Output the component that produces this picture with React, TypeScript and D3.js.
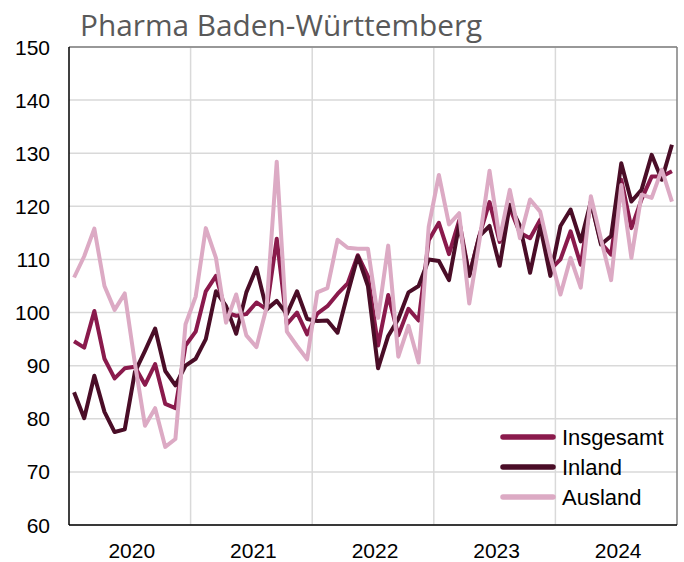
import React from "react";
import * as d3 from "d3";

const years = ["2020", "2021", "2022", "2023", "2024"];
const yTicks = [60, 70, 80, 90, 100, 110, 120, 130, 140, 150];

const insgesamt = [
  94.6, 93.4, 100.3, 91.3, 87.6, 89.5, 89.8, 86.4, 90.3, 82.8, 82.0, 93.8,
  96.4, 104.0, 106.9, 100.0, 99.4, 99.7, 101.9, 100.6, 113.9, 97.8, 100.0, 95.9,
  99.8, 101.2, 103.5, 105.5, 110.8, 106.8, 93.8, 103.3, 95.7, 100.7, 98.5, 113.6,
  116.9, 111.0, 117.3, 107.0, 114.5, 120.8, 113.3, 119.7, 115.0, 114.0, 117.5, 108.1,
  110.0, 115.3, 109.0, 120.9, 113.1, 110.9, 125.0, 115.9, 121.3, 125.6, 125.6, 126.6,
];
const inland = [
  85.0, 80.1, 88.1, 81.3, 77.5, 78.0, 88.8, 92.8, 97.0, 89.0, 86.3, 90.0,
  91.3, 95.0, 104.0, 101.2, 96.0, 103.8, 108.4, 100.6, 102.2, 99.7, 104.0, 98.8,
  98.4, 98.5, 96.2, 103.6, 110.6, 105.0, 89.5, 95.6, 98.8, 103.8, 105.0, 110.0,
  109.7, 106.1, 116.5, 106.9, 114.4, 116.3, 108.8, 120.3, 116.3, 107.5, 116.3, 106.9,
  116.3, 119.4, 113.4, 120.9, 112.8, 114.4, 128.1, 120.9, 123.1, 129.7, 125.0, 131.6,
];
const ausland = [
  106.6, 110.6, 115.8, 105.0, 100.5, 103.6, 90.5, 78.7, 82.0, 74.7, 76.2, 97.8,
  103.0, 115.9, 110.3, 98.1, 103.4, 95.7, 93.5, 101.0, 128.4, 96.4, 93.7, 91.2,
  103.8, 104.6, 113.7, 112.2, 112.0, 112.0, 99.0, 112.6, 91.7, 97.5, 90.6, 116.2,
  125.9, 116.6, 118.7, 101.7, 113.5, 126.7, 113.8, 123.1, 114.0, 121.3, 119.0, 110.6,
  103.4, 110.3, 104.7, 121.9, 113.8, 106.1, 124.0, 110.3, 122.2, 121.6, 126.9, 120.9,
];

const seriesNames = ["Insgesamt", "Inland", "Ausland"];
const seriesColors = ["#8a1a4c", "#4a0d27", "#dcaac4"];

export default function App() {
  const W = 684, H = 562;
  const left = 69, right = 677, top = 47, bottom = 525;
  const months = d3.range(insgesamt.length);
  const x = d3.scaleBand<number>().domain(months).range([left, right]).padding(0);
  const y = d3.scaleLinear().domain([60, 150]).range([bottom, top]);
  const yearX = d3.scaleBand<string>().domain(years).range([left, right]).padding(0);
  const line = d3
    .line<number>()
    .x((_, i) => (x(i) as number) + x.bandwidth() / 2)
    .y((d) => y(d));
  const data = [insgesamt, inland, ausland];
  const font = "'Liberation Sans', Arial, sans-serif";
  const legendY = [437, 467, 497];

  return (
    <svg width={W} height={H} style={{ position: "absolute", left: 0, top: 0, background: "#fff" }}>
      <text x={80} y={36} fontFamily="'Open Sans', 'Noto Sans', sans-serif" fontSize={29.8} fill="#595959">
        Pharma Baden-Württemberg
      </text>
      {yTicks.map((t) => (
        <line key={"h" + t} x1={left} x2={right} y1={y(t)} y2={y(t)} stroke="#d9d9d9" strokeWidth={1.5} />
      ))}
      {years.slice(1).map((yr) => (
        <line key={"v" + yr} x1={yearX(yr)} x2={yearX(yr)} y1={top} y2={bottom} stroke="#d9d9d9" strokeWidth={1.5} />
      ))}
      {yTicks.map((t) => (
        <text key={"t" + t} x={50} y={y(t) + 7.5} textAnchor="end" fontFamily={font} fontSize={21} fill="#000">
          {t}
        </text>
      ))}
      {years.map((yr) => (
        <text key={"y" + yr} x={(yearX(yr) as number) + yearX.bandwidth() / 2 + 2} y={558} textAnchor="middle" fontFamily={font} fontSize={21} fill="#000">
          {yr}
        </text>
      ))}
      {data.map((d, k) => (
        <path key={"s" + k} d={line(d) || ""} fill="none" stroke={seriesColors[k]} strokeWidth={4} strokeLinejoin="round" />
      ))}
      <line x1={left} x2={right} y1={top} y2={top} stroke="#7f7f7f" strokeWidth={1.5} />
      <line x1={right} x2={right} y1={top} y2={bottom} stroke="#7f7f7f" strokeWidth={1.5} />
      <line x1={left} x2={left} y1={top} y2={bottom} stroke="#000" strokeWidth={1.5} />
      <line x1={left} x2={right} y1={bottom} y2={bottom} stroke="#000" strokeWidth={1.5} />
      {seriesNames.map((n, k) => (
        <g key={"l" + n}>
          <line x1={503} x2={553} y1={legendY[k]} y2={legendY[k]} stroke={seriesColors[k]} strokeWidth={5.5} strokeLinecap="round" />
          <text x={562} y={legendY[k] + 8} fontFamily={font} fontSize={22} fill="#000">
            {n}
          </text>
        </g>
      ))}
    </svg>
  );
}
